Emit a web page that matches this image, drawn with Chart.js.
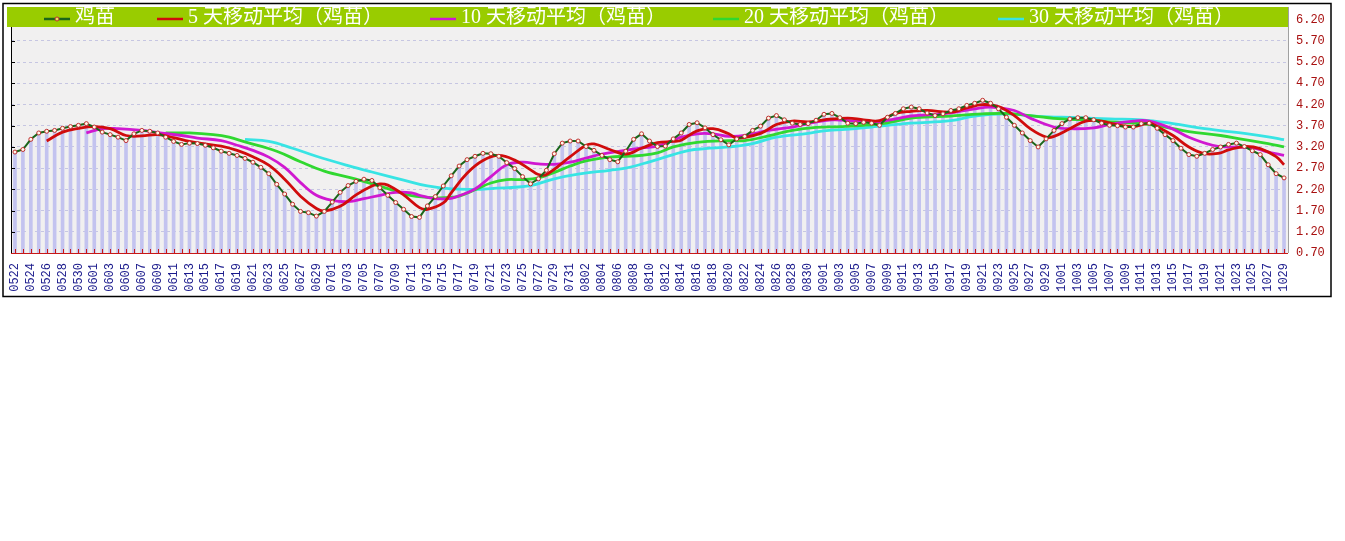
<!DOCTYPE html>
<html>
<head>
<meta charset="utf-8">
<script src="https://cdn.jsdelivr.net/npm/chart.js@4.4.1/dist/chart.umd.min.js"></script>
<style>
  html, body { margin: 0; padding: 0; background: #fff; }
  canvas { display: block; }
</style>
</head>
<body>
<canvas id="chart" width="1345" height="541"></canvas>
<script>
// daily dates, 0522 .. 1029
const dates = [
  '0522','0523','0524','0525','0526','0527','0528','0529','0530','0531',
  '0601','0602','0603','0604','0605','0606','0607','0608','0609','0610',
  '0611','0612','0613','0614','0615','0616','0617','0618','0619','0620',
  '0621','0622','0623','0624','0625','0626','0627','0628','0629','0630',
  '0701','0702','0703','0704','0705','0706','0707','0708','0709','0710',
  '0711','0712','0713','0714','0715','0716','0717','0718','0719','0720',
  '0721','0722','0723','0724','0725','0726','0727','0728','0729','0730','0731',
  '0801','0802','0803','0804','0805','0806','0807','0808','0809','0810',
  '0811','0812','0813','0814','0815','0816','0817','0818','0819','0820',
  '0821','0822','0823','0824','0825','0826','0827','0828','0829','0830','0831',
  '0901','0902','0903','0904','0905','0906','0907','0908','0909','0910',
  '0911','0912','0913','0914','0915','0916','0917','0918','0919','0920',
  '0921','0922','0923','0924','0925','0926','0927','0928','0929','0930',
  '1001','1002','1003','1004','1005','1006','1007','1008','1009','1010',
  '1011','1012','1013','1014','1015','1016','1017','1018','1019','1020',
  '1021','1022','1023','1024','1025','1026','1027','1028','1029'
];

// 鸡苗 daily price
const price = [
  3.08,3.14,3.38,3.53,3.57,3.59,3.64,3.68,3.71,3.75,
  3.67,3.55,3.49,3.43,3.35,3.51,3.59,3.57,3.53,3.43,
  3.33,3.26,3.29,3.28,3.24,3.18,3.10,3.05,3.00,2.93,
  2.84,2.72,2.57,2.32,2.09,1.85,1.68,1.65,1.57,1.68,
  1.90,2.13,2.29,2.39,2.44,2.41,2.24,2.06,1.89,1.73,
  1.56,1.54,1.81,2.03,2.28,2.52,2.75,2.90,2.98,3.05,
  3.04,2.98,2.83,2.69,2.50,2.33,2.45,2.65,3.04,3.29,
  3.34,3.34,3.21,3.12,3.00,2.90,2.85,3.10,3.38,3.51,
  3.34,3.21,3.22,3.39,3.53,3.73,3.77,3.65,3.49,3.37,
  3.25,3.39,3.45,3.59,3.69,3.88,3.94,3.84,3.76,3.73,
  3.75,3.83,3.97,3.99,3.89,3.76,3.75,3.78,3.76,3.71,
  3.90,3.99,4.10,4.14,4.10,4.00,3.94,3.98,4.06,4.10,
  4.18,4.23,4.30,4.23,4.10,3.90,3.71,3.53,3.35,3.20,
  3.39,3.59,3.75,3.86,3.89,3.89,3.84,3.76,3.71,3.70,
  3.67,3.67,3.75,3.76,3.64,3.49,3.35,3.17,3.02,2.98,
  3.05,3.14,3.20,3.26,3.29,3.21,3.11,3.02,2.78,2.57,
  2.47
];

// moving averages (day index -> value)
const ma5Days = [4,6,8,10,12,14,16,18,20,22,24,26,28,30,32,34,36,38,39,41,
  43,45,46,47,49,51,52,54,55,57,59,61,63,65,66,67,70,72,73,75,
  77,79,81,83,84,86,88,90,91,94,96,98,100,102,105,107,109,111,113,115,
  118,120,122,124,126,128,130,131,133,135,137,139,141,143,144,146,148,150,152,153,
  155,157,159,160];
const ma5Vals = [3.34,3.55,3.64,3.68,3.63,3.47,3.46,3.49,3.42,3.33,3.27,3.22,3.12,2.97,2.77,2.44,2.04,1.75,1.69,1.80,
  2.07,2.28,2.33,2.30,2.07,1.77,1.73,1.88,2.12,2.58,2.88,3.00,2.89,2.66,2.55,2.55,2.97,3.24,3.27,3.14,
  3.03,3.17,3.30,3.33,3.36,3.58,3.63,3.51,3.41,3.52,3.73,3.81,3.79,3.84,3.88,3.84,3.82,3.99,4.04,4.06,
  4.02,4.12,4.20,4.15,3.94,3.63,3.43,3.45,3.63,3.81,3.81,3.72,3.68,3.76,3.68,3.47,3.20,3.04,3.06,3.13,
  3.21,3.16,2.97,2.78];

const ma10Days = [9,11,13,16,18,21,23,26,28,30,32,34,36,38,40,42,44,46,48,50,
  51,53,55,56,58,60,62,64,66,68,70,72,74,77,79,81,83,84,86,88,
  90,92,95,98,100,103,106,109,111,113,117,121,123,126,128,131,133,136,138,141,
  143,146,148,151,153,156,158,160];
const ma10Vals = [3.53,3.63,3.63,3.59,3.54,3.47,3.41,3.35,3.24,3.12,2.96,2.72,2.36,2.06,1.94,1.91,1.98,2.06,2.13,2.12,
  2.06,1.98,1.99,2.05,2.21,2.50,2.78,2.84,2.80,2.79,2.84,2.94,3.03,3.12,3.18,3.22,3.36,3.43,3.51,3.51,
  3.45,3.47,3.59,3.67,3.75,3.84,3.81,3.80,3.86,3.93,3.98,4.10,4.14,4.06,3.88,3.67,3.63,3.65,3.73,3.81,
  3.81,3.62,3.43,3.24,3.20,3.18,3.08,3.00];

const ma20Days = [19,22,25,27,29,33,36,39,43,45,48,50,53,55,56,58,60,62,64,66,
  68,70,72,75,77,79,81,83,86,90,92,95,98,101,104,107,110,113,117,122,
  125,128,132,136,138,142,145,148,152,155,158,160];
const ma20Vals = [3.53,3.53,3.49,3.43,3.32,3.10,2.85,2.63,2.44,2.33,2.16,2.05,2.00,2.01,2.04,2.19,2.35,2.43,2.43,2.47,
  2.60,2.75,2.87,2.96,2.98,3.00,3.06,3.20,3.31,3.35,3.35,3.46,3.59,3.66,3.68,3.71,3.77,3.88,3.92,3.98,
  3.99,3.94,3.86,3.83,3.79,3.75,3.67,3.56,3.47,3.37,3.28,3.20];

const ma30Days = [29,32,35,38,42,45,49,52,55,58,60,65,68,71,75,77,80,83,85,87,
  90,93,96,100,102,106,108,110,113,118,121,125,129,134,138,142,146,150,155,158,160];
const ma30Vals = [3.38,3.33,3.17,2.98,2.76,2.61,2.42,2.28,2.21,2.20,2.22,2.29,2.45,2.56,2.65,2.70,2.85,3.02,3.12,3.16,
  3.20,3.28,3.43,3.52,3.58,3.63,3.67,3.71,3.76,3.82,3.93,3.98,3.92,3.89,3.86,3.84,3.75,3.63,3.52,3.44,3.37];

const seriesNames = ['鸡苗', '5 天移动平均（鸡苗）', '10 天移动平均（鸡苗）', '20 天移动平均（鸡苗）', '30 天移动平均（鸡苗）'];
const seriesColors = ['#1a661a', '#d00c0c', '#d018d0', '#30d830', '#38e4e4'];

const yMin = 0.7, yMax = 6.2, yStep = 0.5;

const toPoints = (days, vals) => days.map((d, i) => ({ x: dates[d], y: vals[i] }));

const CJK_FONT = '"Liberation Serif", "Noto Sans CJK SC", serif';

// plot background, frame, axes and the green legend bar
const decor = {
  id: 'decor',
  beforeDraw(chart) {
    const { ctx, chartArea: a } = chart;
    ctx.save();
    ctx.fillStyle = '#fff';
    ctx.fillRect(0, 0, chart.width, chart.height);
    ctx.fillStyle = '#f1f0f0';
    ctx.fillRect(a.left, a.top, a.right - a.left, a.bottom - a.top);
    ctx.restore();
  },
  afterDraw(chart) {
    const { ctx, chartArea: a, scales } = chart;
    const x = scales.x, y = scales.y;
    ctx.save();

    // bottom axis, red, with small upward ticks for every day
    ctx.strokeStyle = '#c81818';
    ctx.lineWidth = 1;
    ctx.beginPath();
    ctx.moveTo(a.left, a.bottom + 0.5);
    ctx.lineTo(a.right, a.bottom + 0.5);
    for (let i = 0; i < dates.length; i++) {
      const px = Math.round(x.getPixelForValue(i)) + 0.5;
      ctx.moveTo(px, a.bottom);
      ctx.lineTo(px, a.bottom - 4);
    }
    ctx.stroke();

    // left axis, black, with inward ticks
    ctx.strokeStyle = '#000';
    ctx.beginPath();
    ctx.moveTo(a.left + 0.5, 27);
    ctx.lineTo(a.left + 0.5, a.bottom);
    y.ticks.forEach(t => {
      if (t.value >= yMax - 0.01 || t.value <= yMin + 0.01) return;
      const py = Math.round(y.getPixelForValue(t.value)) + 0.5;
      ctx.moveTo(a.left, py);
      ctx.lineTo(a.left + 4, py);
    });
    ctx.stroke();

    // right frame line, grey
    ctx.strokeStyle = '#a0a0a0';
    ctx.beginPath();
    ctx.moveTo(a.right + 0.5, 7);
    ctx.lineTo(a.right + 0.5, a.bottom);
    ctx.stroke();

    // legend bar
    ctx.fillStyle = '#99cc00';
    ctx.fillRect(7, 7, a.right - 7, 20);
    const itemX = [44, 157, 430, 713, 998];
    ctx.font = '20px ' + CJK_FONT;
    ctx.textBaseline = 'middle';
    ctx.textAlign = 'left';
    seriesNames.forEach((name, i) => {
      const lx = itemX[i];
      ctx.strokeStyle = seriesColors[i];
      ctx.lineWidth = 2.5;
      ctx.beginPath();
      ctx.moveTo(lx, 19);
      ctx.lineTo(lx + 26, 19);
      ctx.stroke();
      if (i === 0) {
        ctx.fillStyle = '#e8e060';
        ctx.strokeStyle = '#c03030';
        ctx.lineWidth = 1;
        ctx.beginPath();
        ctx.arc(lx + 13, 19, 2, 0, Math.PI * 2);
        ctx.fill();
        ctx.stroke();
      }
      ctx.fillStyle = '#fff';
      ctx.fillText(name, lx + 31, 18);
    });

    // outer frame
    ctx.strokeStyle = '#000';
    ctx.lineWidth = 1.5;
    ctx.strokeRect(3, 3.5, 1328, 293);
    ctx.restore();
  }
};

new Chart(document.getElementById('chart'), {
  type: 'bar',
  data: {
    labels: dates,
    datasets: [
      {
        type: 'line', label: seriesNames[0], data: price,
        borderColor: seriesColors[0], borderWidth: 2,
        pointRadius: 2, pointBackgroundColor: '#fff8e8',
        pointBorderColor: '#c03030', pointBorderWidth: 1,
        tension: 0, order: 1
      },
      {
        type: 'line', label: seriesNames[1], data: toPoints(ma5Days, ma5Vals),
        borderColor: seriesColors[1], borderWidth: 2.8, pointRadius: 0,
        tension: 0.4, spanGaps: true, order: 2
      },
      {
        type: 'line', label: seriesNames[2], data: toPoints(ma10Days, ma10Vals),
        borderColor: seriesColors[2], borderWidth: 2.8, pointRadius: 0,
        tension: 0.4, spanGaps: true, order: 3
      },
      {
        type: 'line', label: seriesNames[3], data: toPoints(ma20Days, ma20Vals),
        borderColor: seriesColors[3], borderWidth: 2.8, pointRadius: 0,
        tension: 0.4, spanGaps: true, order: 4
      },
      {
        type: 'line', label: seriesNames[4], data: toPoints(ma30Days, ma30Vals),
        borderColor: seriesColors[4], borderWidth: 2.8, pointRadius: 0,
        tension: 0.4, spanGaps: true, order: 5
      },
      {
        type: 'bar', label: 'bars', data: price,
        backgroundColor: '#c3c3ef', barThickness: 3, order: 10
      }
    ]
  },
  options: {
    responsive: false,
    devicePixelRatio: 1,
    animation: false,
    layout: { padding: { left: 11, top: 19.7, right: 0, bottom: 0 } },
    plugins: { legend: { display: false }, tooltip: { enabled: false } },
    scales: {
      x: {
        offset: true,
        grid: { display: false, drawTicks: false },
        border: { display: false },
        afterFit: s => { s.height = 288; },
        ticks: {
          autoSkip: false, minRotation: 90, maxRotation: 90, padding: 10,
          color: '#1a1a8c',
          font: { family: '"Liberation Mono", monospace', size: 12 },
          callback: (v, i) => (i % 2 === 0 ? dates[i] : '')
        }
      },
      y: {
        position: 'right',
        min: yMin, max: yMax,
        afterFit: s => { s.width = 57; },
        grid: { color: '#c6c6e2', lineWidth: 1, drawTicks: false },
        border: { display: false, dash: [3, 3] },
        ticks: {
          stepSize: yStep, padding: 8, color: '#a81010',
          font: { family: '"Liberation Mono", monospace', size: 12 },
          callback: v => Number(v).toFixed(2)
        }
      }
    }
  },
  plugins: [decor]
});
</script>
</body>
</html>
